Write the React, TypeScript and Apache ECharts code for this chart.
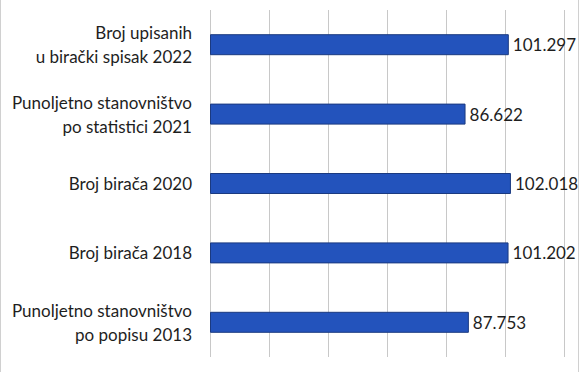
import React, { useEffect, useRef } from "react";
import * as echarts from "echarts";

const categories = [
  "Broj upisanih\nu birački spisak 2022",
  "Punoljetno stanovništvo\npo statistici 2021",
  "Broj birača 2020",
  "Broj birača 2018",
  "Punoljetno stanovništvo\npo popisu 2013",
];
const values = [101297, 86622, 102018, 101202, 87753];

const fmt = (v: number) => {
  const s = String(Math.round(v));
  return s.replace(/\B(?=(\d{3})+(?!\d))/g, ".");
};

export default function App() {
  const ref = useRef<HTMLDivElement>(null);
  useEffect(() => {
    const chart = echarts.init(ref.current!, null, { renderer: "svg" });
    chart.setOption({
      animation: false,
      backgroundColor: "#ffffff",
      grid: { left: 210, right: 15, top: 10, bottom: 15 },
      xAxis: {
        type: "value",
        min: 0,
        max: 120000,
        interval: 20000,
        axisLabel: { show: false },
        axisLine: { show: false },
        axisTick: { show: false },
        splitLine: { show: true, lineStyle: { color: "#c8c8c8", width: 1 } },
      },
      yAxis: {
        type: "category",
        data: categories,
        inverse: true,
        axisLine: { show: false },
        axisTick: { show: false },
        axisLabel: {
          margin: 18,
          fontFamily: "Lato",
          fontSize: 17,
          lineHeight: 24,
          color: "#1e1e1e",
          align: "right",
        },
      },
      series: [
        {
          type: "bar",
          data: values,
          barWidth: 21,
          itemStyle: { color: "#2353BC", borderColor: "#1B3A80", borderWidth: 1 },
          label: {
            show: true,
            position: "right",
            distance: 4,
            fontFamily: "Lato",
            fontSize: 17,
            color: "#1e1e1e",
            formatter: (p: any) => fmt(p.value),
          },
        },
      ],
      graphic: [
        { type: "line", shape: { x1: 0.5, y1: 0, x2: 0.5, y2: 372 }, style: { stroke: "#d0d0d0", lineWidth: 1 } },
        { type: "line", shape: { x1: 578.5, y1: 0, x2: 578.5, y2: 372 }, style: { stroke: "#d0d0d0", lineWidth: 1 } },
      ],
    });
    return () => chart.dispose();
  }, []);
  return (
    <div
      ref={ref}
      style={{ position: "fixed", left: 0, top: 0, width: 579, height: 372 }}
    />
  );
}
